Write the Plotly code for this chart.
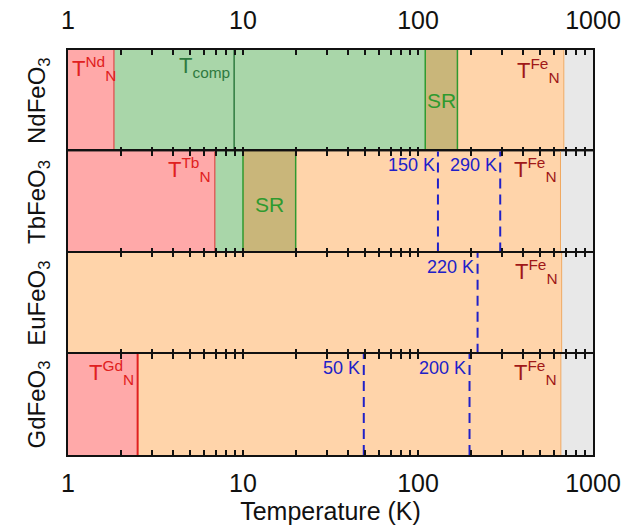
import numpy as np
import plotly.graph_objects as go
from plotly.subplots import make_subplots

# ---------------- data ----------------
compounds = ["NdFeO<sub>3</sub>", "TbFeO<sub>3</sub>", "EuFeO<sub>3</sub>", "GdFeO<sub>3</sub>"]

# phase region boundaries (K) and region kinds, per compound
nd_bounds = [1, 1.83, 110, 168, 681, 1000]
nd_kinds = ["R", "comp", "SR", "Fe", "para"]
tb_bounds = [1, 6.9, 10, 20, 652, 1000]
tb_kinds = ["R", "comp", "SR", "Fe", "para"]
eu_bounds = [1, 662, 1000]
eu_kinds = ["Fe", "para"]
gd_bounds = [1, 2.5, 655, 1000]
gd_kinds = ["R", "Fe", "para"]

t_comp_nd = 8.9

# dashed transition lines and their labels
tb_lines = [130, 295]
tb_line_labels = ["150 K", "290 K"]
eu_lines = [219]
eu_line_labels = ["220 K"]
gd_lines = [49, 197]
gd_line_labels = ["50 K", "200 K"]

x_ticks = [1, 10, 100, 1000]
x_tick_labels = ["1", "10", "100", "1000"]
minor_ticks = [m * d for d in (1, 10, 100) for m in range(2, 10)]

# ---------------- style ----------------
FONT = "Liberation Sans, Arial, sans-serif"
fill = {"R": "#FFA9A9", "comp": "#A9D6A9", "SR": "#C9B67A", "Fe": "#FFD4AA", "para": "#E8E8E8"}
edge = {"R": "#E04848", "comp": "#2F7A3F", "SR": "#2F9A2F", "Fe": "#F0A860"}
RED = "#E02020"
DARKRED = "#A01818"
DGREEN = "#2F7A3F"
GREEN = "#2F9A2F"
BLUE = "#2020C8"

rows = [
    (nd_bounds, nd_kinds),
    (tb_bounds, tb_kinds),
    (eu_bounds, eu_kinds),
    (gd_bounds, gd_kinds),
]

all_ticks = x_ticks + minor_ticks
all_labels = x_tick_labels + [""] * len(minor_ticks)

fig = make_subplots(rows=4, cols=1, vertical_spacing=0, shared_xaxes=False)

annotations = []

def lg(v):
    return float(np.log10(v))

def vline(r, x, color, width, dash="solid"):
    fig.add_trace(go.Scatter(x=[x, x], y=[0, 1], mode="lines",
                             line=dict(color=color, width=width, dash=dash),
                             hoverinfo="skip", showlegend=False), row=r, col=1)

for i, (bounds, kinds) in enumerate(rows):
    r = i + 1
    for k in range(len(kinds)):
        x0, x1 = bounds[k], bounds[k + 1]
        fig.add_trace(go.Scatter(x=[x0, x1, x1, x0, x0], y=[0, 0, 1, 1, 0], mode="lines",
                                 fill="toself", fillcolor=fill[kinds[k]],
                                 line=dict(width=0), hoverinfo="skip",
                                 showlegend=False), row=r, col=1)
    for k in range(1, len(kinds)):
        left, right = kinds[k - 1], kinds[k]
        if left == "R":
            col, w = (RED, 2) if right == "Fe" else (edge["R"], 1.2)
        elif right == "SR" or left == "SR":
            col, w = edge["SR"], 1.5
        elif right == "para":
            col, w = edge["Fe"], 1
        else:
            col, w = edge["comp"], 1.5
        vline(r, bounds[k], col, w)

    fig.update_xaxes(row=r, col=1, type="log", range=[0, 3], automargin=False,
                     showline=True, linecolor="#111", linewidth=1.5, mirror="ticks",
                     ticks="inside", ticklen=5, tickwidth=1.5, tickcolor="#111",
                     tickmode="array", tickvals=all_ticks, ticktext=all_labels,
                     showgrid=False, zeroline=False, layer="above traces",
                     tickfont=dict(family=FONT, size=25, color="#111"),
                     showticklabels=(r in (1, 4)),
                     side=("top" if r == 1 else "bottom"))
    fig.update_yaxes(row=r, col=1, range=[0, 1], showticklabels=False, ticks="",
                     showline=True, linecolor="#111", linewidth=1.5, mirror=True,
                     showgrid=False, zeroline=False, fixedrange=True, automargin=False,
                     layer="above traces",
                     title=dict(text=compounds[i], standoff=14,
                                font=dict(family=FONT, size=24, color="#111")))

# T_comp line in NdFeO3
vline(1, t_comp_nd, DGREEN, 1.5)

# dashed transition lines
for r, vals, labs in [(2, tb_lines, tb_line_labels), (3, eu_lines, eu_line_labels),
                      (4, gd_lines, gd_line_labels)]:
    xr, yr = f"x{r}", f"y{r}"
    for v, lab in zip(vals, labs):
        vline(r, v, BLUE, 2, "10px,6px")
        annotations.append(dict(xref=xr, yref=yr, x=lg(v) - 0.008, y=0.98, text=lab,
                                showarrow=False, xanchor="right", yanchor="top",
                                font=dict(family=FONT, size=18, color=BLUE)))

def tn(sup):
    return f"T<sup>{sup}</sup><sub>N</sub>"

ann_font = lambda c, s=22: dict(family=FONT, size=s, color=c)

# NdFeO3 labels
annotations.append(dict(xref="x", yref="y", x=lg(1.02), y=0.99, text=tn("Nd"),
                        showarrow=False, xanchor="left", yanchor="top", font=ann_font(RED)))
annotations.append(dict(xref="x", yref="y", x=lg(8.7), y=0.99, text="T<sub>comp</sub>",
                        showarrow=False, xanchor="right", yanchor="top", font=ann_font(DGREEN)))
annotations.append(dict(xref="x", yref="y", x=lg(np.sqrt(110 * 168)), y=0.5, text="SR",
                        showarrow=False, xanchor="center", yanchor="middle",
                        font=ann_font(GREEN, 21)))
annotations.append(dict(xref="x", yref="y", x=lg(nd_bounds[4]) - 0.01, y=0.97, text=tn("Fe"),
                        showarrow=False, xanchor="right", yanchor="top", font=ann_font(DARKRED)))
# TbFeO3 labels
annotations.append(dict(xref="x2", yref="y2", x=lg(tb_bounds[1]) - 0.01, y=0.99, text=tn("Tb"),
                        showarrow=False, xanchor="right", yanchor="top", font=ann_font(RED)))
annotations.append(dict(xref="x2", yref="y2", x=lg(np.sqrt(10 * 20)), y=0.47, text="SR",
                        showarrow=False, xanchor="center", yanchor="middle",
                        font=ann_font(GREEN, 21)))
annotations.append(dict(xref="x2", yref="y2", x=lg(tb_bounds[4]) - 0.01, y=0.99, text=tn("Fe"),
                        showarrow=False, xanchor="right", yanchor="top", font=ann_font(DARKRED)))
# EuFeO3
annotations.append(dict(xref="x3", yref="y3", x=lg(eu_bounds[1]) - 0.01, y=0.99, text=tn("Fe"),
                        showarrow=False, xanchor="right", yanchor="top", font=ann_font(DARKRED)))
# GdFeO3
annotations.append(dict(xref="x4", yref="y4", x=lg(gd_bounds[1]) - 0.01, y=0.99, text=tn("Gd"),
                        showarrow=False, xanchor="right", yanchor="top", font=ann_font(RED)))
annotations.append(dict(xref="x4", yref="y4", x=lg(gd_bounds[2]) - 0.01, y=0.99, text=tn("Fe"),
                        showarrow=False, xanchor="right", yanchor="top", font=ann_font(DARKRED)))

fig.update_xaxes(row=1, col=1, ticklabelstandoff=9)
fig.update_xaxes(row=4, col=1, ticklabelstandoff=5,
                 title=dict(text="Temperature (K)", standoff=3,
                            font=dict(family=FONT, size=25, color="#111")))

fig.update_layout(width=624, height=528, margin=dict(l=68, r=31, t=50, b=73),
                  paper_bgcolor="white", plot_bgcolor="white",
                  annotations=annotations, showlegend=False,
                  font=dict(family=FONT))

fig.write_html("out.html")
